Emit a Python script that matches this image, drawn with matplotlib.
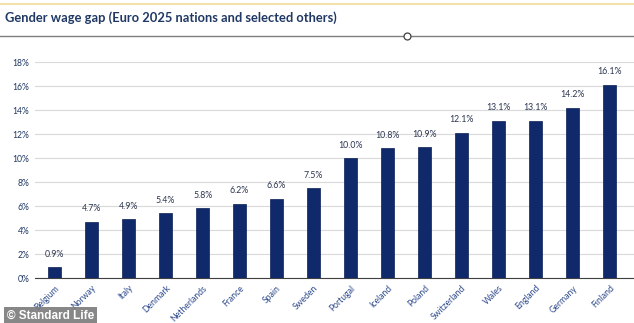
import matplotlib.pyplot as plt
import numpy as np
from matplotlib.lines import Line2D

countries = ["Belgium", "Norway", "Italy", "Denmark", "Netherlands", "France", "Spain", "Sweden",
             "Portugal", "Iceland", "Poland", "Switzerland", "Wales", "England", "Germany", "Finland"]
gap = [0.9, 4.7, 4.9, 5.4, 5.8, 6.2, 6.6, 7.5, 10.0, 10.8, 10.9, 12.1, 13.1, 13.1, 14.2, 16.1]
yticks = [0, 2, 4, 6, 8, 10, 12, 14, 16, 18]

NAVY = "#10296b"
TXT = "#1f3864"

fig = plt.figure(figsize=(6.34, 3.23), dpi=100)
ax = fig.add_axes([35 / 634, 45 / 323, 1 - 35 / 634, (278 - 62) / 323])

x = np.arange(len(countries))
ax.bar(x, gap, width=0.35, color=NAVY, edgecolor="#0a1f55", linewidth=0.5, zorder=3)
for xi, v in zip(x, gap):
    ax.annotate("%.1f%%" % v, (xi, v), xytext=(0, 6), textcoords="offset points",
                ha="center", va="bottom", fontsize=6.3, color="#2b3550", family="Lato")

ax.set_xlim(-0.53, len(countries) - 0.34)
ax.set_ylim(0, 18)
ax.set_yticks(yticks)
ax.set_yticklabels(["%d%%" % t for t in yticks], fontsize=6.2, color=TXT, family="Lato")
ax.grid(axis="y", color="#d9d9d9", linewidth=0.8, zorder=0)
ax.set_xticks(x)
ax.set_xticklabels(countries, rotation=45, ha="right", rotation_mode="anchor",
                   fontsize=6.2, color="#2e4a8c", family="Lato")
ax.tick_params(length=0, pad=4)
for s in ["top", "right", "left"]:
    ax.spines[s].set_visible(False)
ax.spines["bottom"].set_color("#404040")
ax.spines["bottom"].set_linewidth(0.8)

# header decorations
fig.add_artist(Line2D([0, 1], [1 - 4 / 323, 1 - 4 / 323], color="#f2dc9a", linewidth=1.2))
fig.add_artist(Line2D([0, 1], [1 - 36 / 323, 1 - 36 / 323], color="#7f7f7f", linewidth=1.0))
fig.add_artist(Line2D([407 / 634], [1 - 36 / 323], marker="o", markersize=5,
                      markerfacecolor="white", markeredgecolor="#404040", markeredgewidth=0.9))
fig.text(5 / 634, 1 - 18 / 323, "Gender wage gap (Euro 2025 nations and selected others)",
         fontsize=9.3, fontweight="bold", color="#1f3864", family="Lato", va="center")

fig.text(7 / 634, 7.5 / 323, "\u00a9 Standard Life", fontsize=8.5, fontweight="bold",
         color="white", family="Liberation Sans", va="center",
         bbox=dict(boxstyle="square,pad=0.25", facecolor="#7a7a7a", edgecolor="none", alpha=0.9))

fig.savefig("out.png", dpi=100)
